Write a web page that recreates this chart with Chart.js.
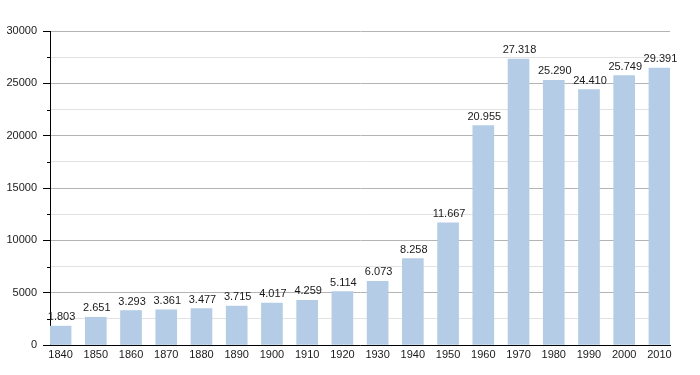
<!DOCTYPE html>
<html>
<head>
<meta charset="utf-8">
<script src="https://cdn.jsdelivr.net/npm/chart.js@4/dist/chart.umd.min.js"></script>
<style>
  html, body { margin: 0; padding: 0; background: #fff; }
  #wrap { width: 700px; height: 375px; }
</style>
</head>
<body>
<div id="wrap"><canvas id="pop-chart"></canvas></div>
<script>
const years = [1840, 1850, 1860, 1870, 1880, 1890, 1900, 1910, 1920, 1930, 1940, 1950, 1960, 1970, 1980, 1990, 2000, 2010];
// bar heights as drawn (the 2010 bar is drawn lower than its label says)
const barValues = [1803, 2651, 3293, 3361, 3477, 3715, 4017, 4259, 5114, 6073, 8258, 11667, 20955, 27318, 25290, 24410, 25749, 26450];
const valueLabels = ['1.803', '2.651', '3.293', '3.361', '3.477', '3.715', '4.017', '4.259', '5.114', '6.073', '8.258', '11.667', '20.955', '27.318', '25.290', '24.410', '25.749', '29.391'];
const yTicks = [0, 5000, 10000, 15000, 20000, 25000, 30000];

const font = { family: '"Liberation Sans", Arial, sans-serif', size: 11 };

const labelPlugin = {
    id: 'labels',
    afterDatasetsDraw(chart) {
        const ctx = chart.ctx;
        const meta = chart.getDatasetMeta(0);
        ctx.save();
        ctx.font = `${font.size}px ${font.family}`;
        ctx.fillStyle = '#1a1a1a';
        ctx.textAlign = 'center';
        ctx.textBaseline = 'middle';
        meta.data.forEach((bar, i) => {
            ctx.fillText(valueLabels[i], bar.x + 1, bar.y - 9);
        });
        ctx.restore();
    },
    afterDraw(chart) {
        // short minor tick marks between the labelled ones
        const y = chart.scales.y;
        const ctx = chart.ctx;
        ctx.save();
        ctx.strokeStyle = '#000';
        ctx.lineWidth = 1;
        for (let v = 2500; v < 30000; v += 5000) {
            const py = Math.round(y.getPixelForValue(v)) + 0.5;
            ctx.beginPath();
            ctx.moveTo(y.right - 3, py);
            ctx.lineTo(y.right, py);
            ctx.stroke();
        }
        ctx.restore();
    }
};

new Chart(document.getElementById('pop-chart'), {
    type: 'bar',
    data: {
        datasets: [{
            data: years.map((yr, i) => ({ x: yr, y: barValues[i] })),
            backgroundColor: '#b4cce6',
            barThickness: 21
        }]
    },
    options: {
        responsive: true,
        maintainAspectRatio: false,
        animation: false,
        layout: { padding: { top: 31, right: 30, left: 0, bottom: 0 } },
        plugins: {
            legend: { display: false },
            tooltip: { enabled: false }
        },
        scales: {
            x: {
                type: 'linear',
                offset: false,
                min: 1837,
                max: 2013,
                afterBuildTicks: (scale) => { scale.ticks = years.map(v => ({ value: v })); },
                afterFit: (scale) => { scale.height = 30; },
                grid: { display: false, drawTicks: false },
                border: { color: '#000', width: 1 },
                ticks: {
                    color: '#1a1a1a',
                    font,
                    padding: 3,
                    maxRotation: 0,
                    autoSkip: false,
                    callback: (v) => String(v)
                }
            },
            y: {
                min: 0,
                max: 30000,
                afterFit: (scale) => { scale.width = 50; },
                border: { color: '#000', width: 1 },
                grid: {
                    color: (c) => (c.tick && yTicks.includes(c.tick.value)) ? '#b4b4b4' : '#e2e2e2',
                    tickColor: (c) => (c.tick && yTicks.includes(c.tick.value)) ? '#000' : 'rgba(0,0,0,0)',
                    tickLength: 7
                },
                ticks: {
                    stepSize: 2500,
                    color: '#1a1a1a',
                    font,
                    padding: 6,
                    callback: (v) => yTicks.includes(v) ? String(v) : ''
                }
            }
        }
    },
    plugins: [labelPlugin]
});
</script>
</body>
</html>
